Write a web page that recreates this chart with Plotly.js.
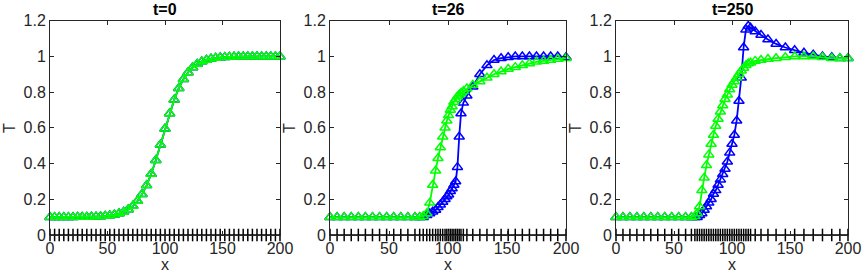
<!DOCTYPE html>
<html><head><meta charset="utf-8">
<script src="https://cdn.plot.ly/plotly-3.0.1.min.js"></script>
<style>html,body{margin:0;padding:0;background:#fff}#chart{width:866px;height:273px}</style>
</head><body><div id="chart"></div>
<script>
// Panel titles and axis labels
const panelTitles = ['t=0', 't=26', 't=250'];
const xLabel = 'x';
const yLabel = 'T';
const xTickVals = [0, 50, 100, 150, 200];
const yTickVals = [0, 0.2, 0.4, 0.6, 0.8, 1, 1.2];
const yTickText = ['0', '0.2', '0.4', '0.6', '0.8', '1', '1.2'];

// t=0 : mesh nodes and values
const x1 = [0,4,8,12,16,20,24,28,32,36,40,44,48,52,56,60,64,68,72,76,80,84,88,92,96,100,104,108,112,116,120,124,128,132,136,140,144,148,152,156,160,164,168,172,176,180,184,188,192,196,200];
const blue1 = [0.100,0.100,0.100,0.100,0.100,0.100,0.101,0.101,0.101,0.102,0.103,0.104,0.106,0.109,0.113,0.120,0.129,0.143,0.162,0.190,0.228,0.278,0.342,0.419,0.505,0.595,0.681,0.758,0.822,0.872,0.910,0.938,0.958,0.971,0.980,0.987,0.991,0.994,0.996,0.997,0.998,0.999,0.999,1.0,1.0,1.0,1.0,1.0,1.0,1.0,1.0];
const green1 = [0.100,0.100,0.100,0.100,0.100,0.100,0.101,0.101,0.101,0.102,0.103,0.104,0.106,0.109,0.113,0.120,0.129,0.143,0.162,0.190,0.228,0.278,0.342,0.419,0.505,0.595,0.681,0.758,0.822,0.872,0.910,0.938,0.958,0.971,0.980,0.987,0.991,0.994,0.996,0.997,0.998,0.999,0.999,1.0,1.0,1.0,1.0,1.0,1.0,1.0,1.0];

// t=26
const x2 = [0,6,12,18,24,30,36,42,48,54,60,66,72,76,79,82,84.5,87,89.5,91.5,93.5,95.5,97.5,99,100.5,102,103.5,105,106.5,108,109.5,111,113,116,121,127,133,139,145,151,157,163,169,175,181,187,193,200];
const blue2 = [0.1,0.1,0.1,0.1,0.1,0.1,0.1,0.1,0.1,0.1,0.1,0.1,0.1,0.1,0.1,0.11,0.12,0.13,0.14,0.155,0.17,0.185,0.2,0.215,0.225,0.245,0.26,0.28,0.30,0.38,0.55,0.68,0.74,0.78,0.83,0.90,0.95,0.98,0.99,0.995,1.0,1.0,1.0,1.0,1.0,1.0,1.0,0.995];
const green2 = [0.1,0.1,0.1,0.1,0.1,0.1,0.1,0.1,0.1,0.1,0.1,0.1,0.1,0.1,0.105,0.12,0.18,0.28,0.36,0.43,0.49,0.55,0.60,0.64,0.67,0.70,0.72,0.745,0.76,0.775,0.785,0.795,0.805,0.82,0.84,0.86,0.88,0.90,0.915,0.93,0.94,0.95,0.96,0.97,0.975,0.98,0.985,0.99];

// t=250
const x3 = [0,6,12,18,24,30,36,42,48,54,60,65,68,70,72,74,76,78,80,82,84,86,88,90,92,94,96,98,100,102,104,106,108,110,112,114,116,120,125,131,138,146,154,162,170,178,186,193,200];
const blue3 = [0.1,0.1,0.1,0.1,0.1,0.1,0.1,0.1,0.1,0.1,0.1,0.1,0.1,0.1,0.11,0.12,0.14,0.16,0.18,0.20,0.23,0.25,0.28,0.31,0.34,0.37,0.41,0.46,0.51,0.56,0.64,0.75,0.88,1.05,1.15,1.17,1.16,1.14,1.12,1.095,1.07,1.05,1.035,1.02,1.01,1.0,0.995,0.99,0.99];
const green3 = [0.1,0.1,0.1,0.1,0.1,0.1,0.1,0.1,0.1,0.1,0.1,0.1,0.105,0.12,0.16,0.25,0.32,0.39,0.45,0.51,0.56,0.61,0.65,0.69,0.725,0.76,0.785,0.815,0.84,0.86,0.88,0.90,0.92,0.935,0.95,0.96,0.965,0.975,0.98,0.985,0.99,0.995,1.0,1.0,1.0,0.995,0.99,0.99,0.99];

const meshY1 = x1.map(() => 0);
const meshY2 = x2.map(() => 0);
const meshY3 = x3.map(() => 0);

const FONT = '"Liberation Sans", Arial, Helvetica, sans-serif';
const AX = '#262626';
const FS = 16;
const W = 866, H = 273;

function series(x, y, color, xa, ya) {
  return {x: x, y: y, type: 'scatter', mode: 'lines+markers', xaxis: xa, yaxis: ya,
    line: {color: color, width: 1.8},
    marker: {symbol: 'triangle-up-open', size: 9, color: color, line: {color: color, width: 1.5}},
    cliponaxis: false, showlegend: false, hoverinfo: 'skip'};
}
function mesh(x, y, xa, ya) {
  return {x: x, y: y, type: 'scatter', mode: 'lines+markers', xaxis: xa, yaxis: ya,
    line: {color: '#000', width: 1.6},
    marker: {symbol: 'line-ns', size: 9, color: '#000', line: {color: '#000', width: 1.5}},
    cliponaxis: false, showlegend: false, hoverinfo: 'skip'};
}

const data = [
  mesh(x1, meshY1, 'x', 'y'), series(x1, blue1, '#0000ff', 'x', 'y'), series(x1, green1, '#00ff00', 'x', 'y'),
  mesh(x2, meshY2, 'x2', 'y2'), series(x2, blue2, '#0000ff', 'x2', 'y2'), series(x2, green2, '#00ff00', 'x2', 'y2'),
  mesh(x3, meshY3, 'x3', 'y3'), series(x3, blue3, '#0000ff', 'x3', 'y3'), series(x3, green3, '#00ff00', 'x3', 'y3')
];

const leftPx = [50, 330, 616], rightPx = [280, 566, 848];
const xDomains = leftPx.map((l, i) => [l / W, rightPx[i] / W]);
const yDomain = [38 / H, 252.3 / H];

function xaxis(dom, anchor) {
  return {domain: dom, anchor: anchor, range: [0, 200], tickvals: xTickVals, ticktext: xTickVals.map(String),
    ticks: 'inside', ticklen: 4, tickwidth: 1, tickcolor: AX, mirror: 'ticks', showline: true, linecolor: AX, linewidth: 1,
    ticklabelstandoff: -1,
    showgrid: false, zeroline: false, tickfont: {family: FONT, size: FS, color: AX}, fixedrange: true};
}
function yaxis(anchor) {
  return {domain: yDomain, anchor: anchor, range: [0, 1.2], tickvals: yTickVals, ticktext: yTickText,
    ticks: 'inside', ticklen: 4, tickwidth: 1, tickcolor: AX, mirror: 'ticks', showline: true, linecolor: AX, linewidth: 1,
    showgrid: false, zeroline: false, tickfont: {family: FONT, size: FS, color: AX}, fixedrange: true};
}

const annotations = [];
panelTitles.forEach((t, i) => {
  const cx = (leftPx[i] + rightPx[i]) / 2 / W;
  annotations.push({text: '<b>' + t + '</b>', xref: 'paper', yref: 'paper', x: cx, y: 1 - 10 / H,
    xanchor: 'center', yanchor: 'middle', showarrow: false, font: {family: FONT, size: FS, color: '#000'}});
  annotations.push({text: xLabel, xref: 'paper', yref: 'paper', x: cx, y: 1 - 264 / H,
    xanchor: 'center', yanchor: 'middle', showarrow: false, font: {family: FONT, size: FS, color: AX}});
  annotations.push({text: yLabel, xref: 'paper', yref: 'paper', x: (leftPx[i] - 41) / W, y: 1 - 128 / H,
    xanchor: 'center', yanchor: 'middle', textangle: -90, showarrow: false, font: {family: FONT, size: FS, color: AX}});
});

const layout = {
  width: W, height: H, margin: {l: 0, r: 0, t: 0, b: 0},
  paper_bgcolor: '#fff', plot_bgcolor: '#fff', showlegend: false,
  xaxis: xaxis(xDomains[0], 'y'), xaxis2: xaxis(xDomains[1], 'y2'), xaxis3: xaxis(xDomains[2], 'y3'),
  yaxis: yaxis('x'), yaxis2: yaxis('x2'), yaxis3: yaxis('x3'),
  annotations: annotations
};

Plotly.newPlot('chart', data, layout, {displayModeBar: false, staticPlot: true});
</script>
</body></html>
